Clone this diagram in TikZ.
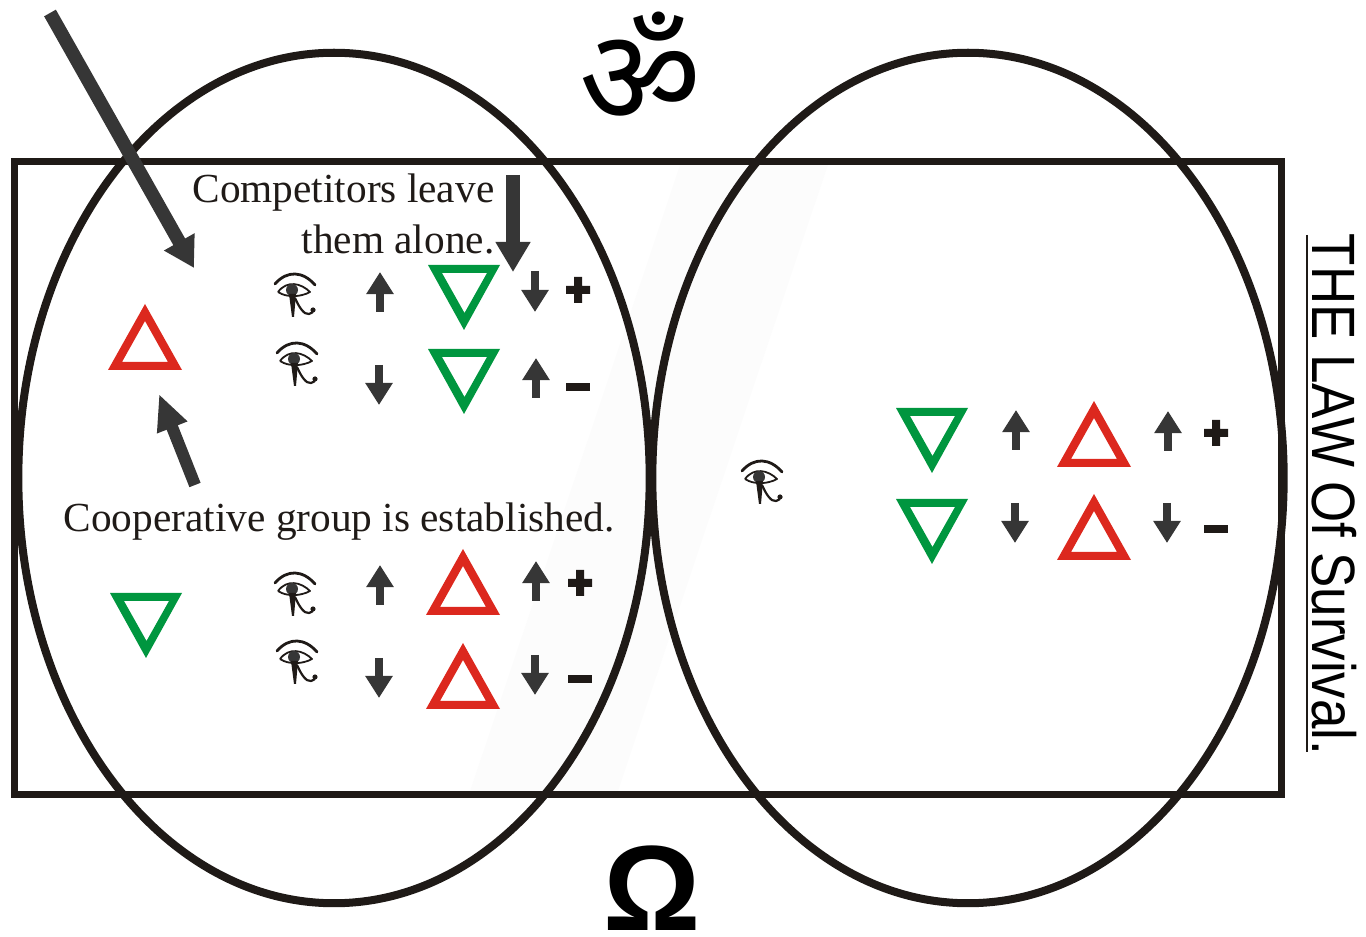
\documentclass[tikz,border=0pt]{standalone}
\usepackage{fontspec}
\usetikzlibrary{arrows.meta,shapes.geometric}
\setmainfont{Liberation Serif}
\newfontfamily\lawfont{Liberation Sans}
\newfontfamily\omfont[Script=Devanagari]{Noto Sans}
\definecolor{ink}{HTML}{1F1A17}
\definecolor{ashen}{HTML}{363636}
\definecolor{tgreen}{HTML}{00963F}
\definecolor{tred}{HTML}{DC281E}
\tikzset{
  x=0.01cm,y=-0.01cm,
  frameline/.style={draw=ink,line width=0.07cm},
  ovalline/.style={draw=ink,line width=0.08cm,ellipse,minimum width=6.31cm,minimum height=8.50cm,inner sep=0pt},
  smallarrow/.style={draw=ashen,line width=0.075cm,-{Triangle[width=0.26cm,length=0.22cm]}},
  medarrow/.style={draw=ashen,line width=0.14cm,-{Triangle[width=0.33cm,length=0.30cm]}},
  coarrow/.style={draw=ashen,line width=0.12cm,-{Triangle[width=0.30cm,length=0.36cm]}},
  bigarrow/.style={draw=ashen,line width=0.135cm,-{Triangle[width=0.33cm,length=0.30cm]}},
  serif label/.style={inner sep=0pt,text=ink,font=\fontsize{11.75}{13}\selectfont},
  pics/greentri/.style={code={\fill[tgreen,even odd rule] (-36,0)--(36,0)--(0,65)--cycle (-22,8)--(23,8)--(0.5,48)--cycle;}},
  pics/redtri/.style={code={\fill[tred,even odd rule] (-37,0)--(37,0)--(0,-66)--cycle (-23,-8)--(23,-8)--(0,-49)--cycle;}},
  pics/pluss/.style={code={\fill[ink] (-12,-4)--(-4,-4)--(-4,-13)--(4,-13)--(4,-4)--(12,-4)--(12,4)--(4,4)--(4,13)--(-4,13)--(-4,4)--(-12,4)--cycle;}},
  pics/minuss/.style={code={\fill[ink] (-12,-4) rectangle (12,4);}},
  pics/horeye/.style={code={
    \draw[ink,line width=0.028cm,line cap=round] (-20,-11) .. controls (-8,-25) and (8,-24) .. (20,-10);
    \draw[ink,line width=0.018cm,line join=round] (-17,-3) .. controls (-8,-15) and (6,-12) .. (15,-3) .. controls (6,2) and (-8,3) .. (-17,-3);
    \fill[ashen] (-3,-5) circle (6);
    \fill[ink] (-6,-1)--(1,-1)--(-1,22)--(-3,22)--cycle;
    \draw[ink,line width=0.022cm] (0,3) .. controls (4,12) and (9,20) .. (14,19) .. controls (17,18.5) and (18,17) .. (18,15);
    \fill[ink] (18,15) circle (2.6);
  }},
}
\begin{document}
\begin{tikzpicture}
\useasboundingbox (0,0) rectangle (1366,937);
% faint band
\fill[black!1] (680,165)--(828,165)--(618,791)--(470,791)--cycle;
% frame and ellipses
\node[frameline,minimum width=12.66cm,minimum height=6.32cm,inner sep=0pt] (frame) at (648,478) {};
\node[ovalline] (leftoval) at (334,478) {};
\node[ovalline] (rightoval) at (968,478) {};
% labels
\node[serif label,anchor=base east] (complab) at (495,203) {Competitors leave};
\node[serif label,anchor=base east] (themlab) at (495,254) {them alone.};
\node[serif label,anchor=base west] (cooplab) at (63,532) {Cooperative group is established.};
\node[inner sep=0pt,font=\fontsize{38}{38}\omfont\bfseries] (om) at (640,68) {ॐ};
\node[inner sep=0pt,anchor=base,text=black,font=\fontsize{34.5}{35}\lawfont\bfseries] (omega) at (652,930) {Ω};
\node[inner sep=0pt,rotate=-90,anchor=base west,font=\fontsize{17.4}{17}\lawfont] (law) at (1312,233) {\scalebox{0.865}[1]{THE LAW Of Survival.}};
\coordinate (ula) at (1307,235);
\coordinate (ulb) at (1307,752);
\draw[ink,line width=0.025cm] (ula) -- (ulb);
% large arrows
\coordinate (bigA) at (50,13); \coordinate (bigB) at (194,268);
\draw[bigarrow] (bigA) -- (bigB);
\coordinate (medA) at (513,175); \coordinate (medB) at (513,272);
\draw[medarrow] (medA) -- (medB);
\coordinate (coA) at (195,485); \coordinate (coB) at (159,394);
\draw[coarrow] (coA) -- (coB);
% triangles
\pic at (145,370) {redtri};
\pic at (146,593) {greentri};
\pic at (464,265) {greentri};
\pic at (464,349) {greentri};
\pic at (463,615) {redtri};
\pic at (463,709) {redtri};
\pic at (932,408) {greentri};
\pic at (932,499) {greentri};
\pic at (1094,467) {redtri};
\pic at (1094,560) {redtri};
% small arrows
\foreach \n/\ax/\ay/\bx/\by in {
 a/380/312/380/272, b/536/398/536/358, c/380/605/380/565, d/536/601/536/561,
 e/1016/450/1016/410, f/1168/451/1168/411,
 g/535/271/535/312, h/379/365/379/405, i/379/658/379/698, j/535/655/535/695,
 k/1015/503/1015/543, l/1167/503/1167/543}{
  \coordinate (s\n) at (\ax,\ay); \coordinate (t\n) at (\bx,\by);
  \draw[smallarrow] (s\n) -- (t\n);
}
% plus and minus
\pic at (578,290) {pluss};
\pic at (580,583) {pluss};
\pic at (1216,433) {pluss};
\pic at (578,387) {minuss};
\pic at (580,679) {minuss};
\pic at (1216,529) {minuss};
% eyes
\pic at (295,295) {horeye};
\pic at (297,364) {horeye};
\pic at (295,594) {horeye};
\pic at (297,662) {horeye};
\pic at (762,482) {horeye};
\end{tikzpicture}
\end{document}
